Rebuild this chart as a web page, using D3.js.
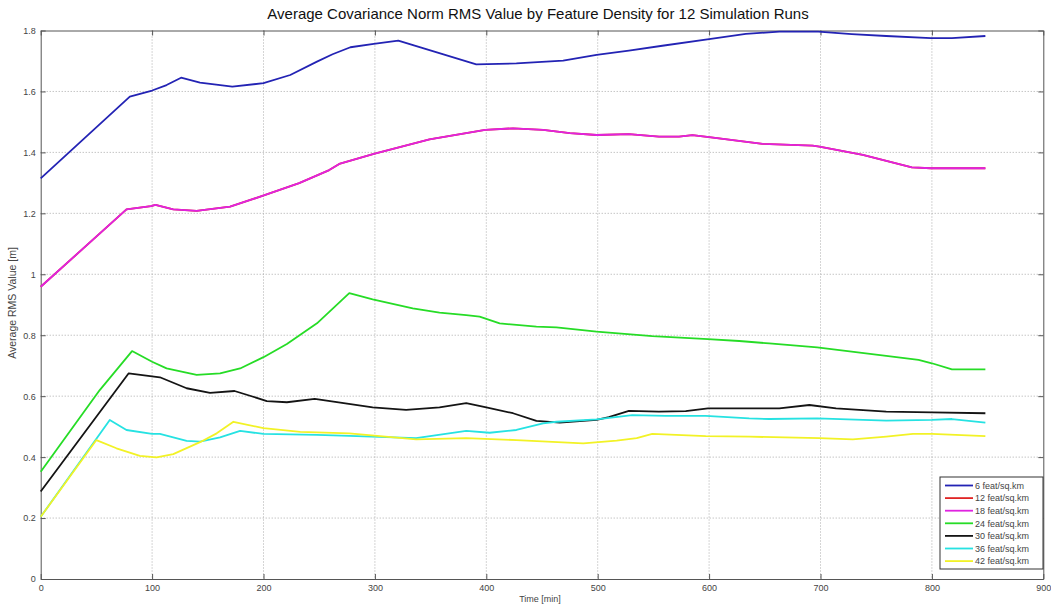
<!DOCTYPE html>
<html>
<head>
<meta charset="utf-8">
<script src="https://cdn.jsdelivr.net/npm/d3@7"></script>
<style>
  body { margin: 0; background: #fff; }
  text { font-family: "Liberation Sans", Arial, sans-serif; }
</style>
</head>
<body>
<div id="chart"></div>
<script>
// data: [time, value]
var feat6 = [[0,1.315],[80,1.583],[100,1.603],[113,1.621],[126,1.645],[143,1.629],[172,1.616],[200,1.627],[224,1.654],[248,1.698],[262,1.722],[278,1.745],[299,1.756],[321,1.767],[391,1.689],[427,1.692],[469,1.701],[499,1.720],[528,1.734],[558,1.750],[600,1.772],[633,1.789],[663,1.796],[698,1.796],[728,1.788],[759,1.782],[799,1.775],[818,1.775],[848,1.782]];
var feat18 = [[0,0.959],[77,1.213],[99,1.224],[103,1.228],[119,1.213],[140,1.208],[170,1.222],[199,1.257],[232,1.299],[259,1.342],[268,1.362],[299,1.395],[349,1.443],[399,1.474],[424,1.479],[451,1.474],[475,1.463],[499,1.457],[528,1.460],[555,1.452],[573,1.452],[585,1.457],[600,1.450],[648,1.428],[693,1.422],[699,1.419],[738,1.392],[782,1.351],[799,1.348],[848,1.348]];
// 12 feat/sq.km is not visible in the picture: hidden under 18 feat/sq.km
var feat12 = feat18;
var feat24 = [[0,0.352],[53,0.620],[82,0.748],[100,0.713],[113,0.691],[140,0.670],[161,0.675],[179,0.691],[200,0.728],[221,0.771],[248,0.839],[277,0.938],[298,0.918],[334,0.888],[358,0.874],[382,0.866],[394,0.861],[412,0.839],[445,0.828],[463,0.826],[499,0.812],[549,0.797],[599,0.787],[627,0.781],[654,0.773],[697,0.760],[759,0.732],[788,0.719],[800,0.708],[818,0.688],[848,0.688]];
var feat30 = [[0,0.287],[79,0.675],[107,0.662],[131,0.626],[152,0.611],[174,0.617],[203,0.584],[221,0.580],[246,0.591],[298,0.563],[328,0.555],[358,0.563],[382,0.577],[400,0.563],[424,0.544],[445,0.519],[466,0.513],[499,0.522],[510,0.531],[528,0.552],[555,0.549],[579,0.551],[599,0.560],[627,0.560],[663,0.560],[690,0.571],[714,0.560],[759,0.549],[800,0.547],[848,0.544]];
var feat36 = [[0,0.204],[62,0.522],[77,0.489],[100,0.476],[107,0.476],[131,0.453],[143,0.451],[161,0.465],[179,0.486],[200,0.476],[248,0.473],[277,0.470],[337,0.462],[382,0.486],[403,0.480],[427,0.489],[451,0.511],[463,0.516],[499,0.524],[531,0.538],[561,0.535],[597,0.535],[636,0.527],[654,0.525],[697,0.527],[759,0.520],[800,0.522],[818,0.525],[848,0.513]];
var feat42 = [[0,0.204],[50,0.456],[68,0.429],[89,0.404],[104,0.399],[119,0.410],[143,0.449],[158,0.478],[173,0.516],[200,0.495],[233,0.483],[277,0.478],[337,0.458],[382,0.462],[427,0.456],[487,0.445],[517,0.454],[535,0.462],[549,0.476],[597,0.469],[636,0.467],[699,0.462],[729,0.458],[759,0.467],[783,0.476],[800,0.476],[848,0.469]];

var seriesNames = ["6 feat/sq.km","12 feat/sq.km","18 feat/sq.km","24 feat/sq.km","30 feat/sq.km","36 feat/sq.km","42 feat/sq.km"];
var seriesData = [feat6, feat12, feat18, feat24, feat30, feat36, feat42];
var seriesColors = ["#2323b4","#e02424","#e023e0","#26dc26","#141414","#26e2e2","#f2f226"];

var xTicks = [0,100,200,300,400,500,600,700,800,900];
var yTicks = [0,0.2,0.4,0.6,0.8,1,1.2,1.4,1.6,1.8];

var W = 1051, H = 609;
var margin = {top: 30.5, right: 8, bottom: 30, left: 40.7},
    width = 1043.3 - margin.left,
    height = 579 - margin.top;

var svg = d3.select("#chart").append("svg")
    .attr("width", W).attr("height", H);

var g = svg.append("g")
    .attr("transform", "translate(" + margin.left + "," + margin.top + ")");

var x = d3.scaleLinear().domain([0, 900]).range([0, width]);
var y = d3.scaleLinear().domain([0, 1.8]).range([height, 0]);

// grid
g.append("g").selectAll("line").data(xTicks.slice(1, -1)).enter().append("line")
    .attr("x1", d => x(d)).attr("x2", d => x(d))
    .attr("y1", 0).attr("y2", height)
    .attr("stroke", "#aaa").attr("stroke-width", 1).attr("stroke-dasharray", "1,2");
g.append("g").selectAll("line").data(yTicks.slice(1, -1)).enter().append("line")
    .attr("y1", d => y(d)).attr("y2", d => y(d))
    .attr("x1", 0).attr("x2", width)
    .attr("stroke", "#aaa").attr("stroke-width", 1).attr("stroke-dasharray", "1,2");

// axes (ticks inward)
var fmt = d => String(d);
var xAxis = g.append("g").attr("transform", "translate(0," + height + ")")
    .call(d3.axisBottom(x).tickValues(xTicks).tickFormat(fmt).tickSizeInner(-5).tickSizeOuter(0).tickPadding(6));
var xTop = g.append("g")
    .call(d3.axisTop(x).tickValues(xTicks).tickFormat("").tickSizeInner(-5).tickSizeOuter(0));
var yAxis = g.append("g")
    .call(d3.axisLeft(y).tickValues(yTicks).tickFormat(fmt).tickSizeInner(-5).tickSizeOuter(0).tickPadding(5));
var yRight = g.append("g").attr("transform", "translate(" + width + ",0)")
    .call(d3.axisRight(y).tickValues(yTicks).tickFormat("").tickSizeInner(-5).tickSizeOuter(0));

[xAxis, xTop, yAxis, yRight].forEach(function(a) {
  a.selectAll(".domain").attr("stroke", "#555");
  a.selectAll(".tick line").attr("stroke", "#555");
  a.selectAll("text").attr("fill", "#444").style("font-size", "9px");
});

// lines
var line = d3.line().x(d => x(d[0])).y(d => y(d[1]));
g.append("g").selectAll("path").data(seriesData).enter().append("path")
    .attr("d", line)
    .attr("fill", "none")
    .attr("stroke", (d, i) => seriesColors[i])
    .attr("stroke-width", 1.8)
    .attr("stroke-linejoin", "round");

// title and labels
svg.append("text").attr("x", 538).attr("y", 19).attr("text-anchor", "middle")
    .style("font-size", "15px").attr("fill", "#111")
    .text("Average Covariance Norm RMS Value by Feature Density for 12 Simulation Runs");
svg.append("text").attr("x", 540).attr("y", 602).attr("text-anchor", "middle")
    .style("font-size", "9px").attr("fill", "#444").text("Time [min]");
svg.append("text").attr("transform", "translate(16,303) rotate(-90)").attr("text-anchor", "middle")
    .style("font-size", "10.5px").attr("fill", "#444").text("Average RMS Value [m]");

// legend
var lg = svg.append("g").attr("transform", "translate(940,477)");
lg.append("rect").attr("width", 103).attr("height", 92)
    .attr("fill", "#fff").attr("stroke", "#333").attr("stroke-width", 1);
var rows = lg.selectAll("g.row").data(seriesNames).enter().append("g")
    .attr("class", "row")
    .attr("transform", (d, i) => "translate(0," + (8.5 + i * 12.6) + ")");
rows.append("line").attr("x1", 5).attr("x2", 33).attr("y1", 0).attr("y2", 0)
    .attr("stroke", (d, i) => seriesColors[i]).attr("stroke-width", 1.8);
rows.append("text").attr("x", 35).attr("y", 3.2).style("font-size", "9px")
    .attr("fill", "#444").text(d => d);
</script>
</body>
</html>
